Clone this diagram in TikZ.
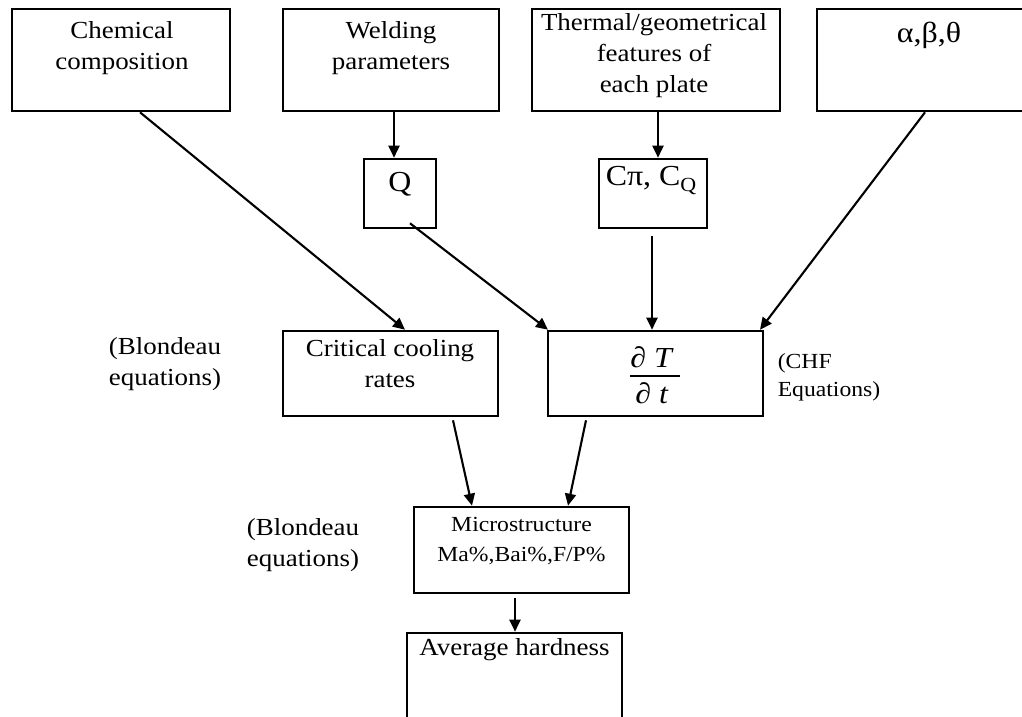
\documentclass[tikz,border=0pt]{standalone}
\usepackage{fontspec}
\setmainfont{Liberation Serif}[FakeStretch=1.1]
\usetikzlibrary{arrows.meta,calc}
\begin{document}
\begin{tikzpicture}[x=1pt,y=-1pt,
  box/.style={draw,line width=2.6pt,inner sep=0pt},
  txt/.style={inner sep=0pt,align=center,font=\fontsize{24.5}{31}\selectfont},
  big/.style={inner sep=0pt,align=center,font=\fontsize{29}{34}\selectfont},
  small/.style={inner sep=0pt,align=center,font=\fontsize{21.5}{30}\selectfont},
  lab/.style={inner sep=0pt,align=left,font=\fontsize{24.5}{31}\selectfont},
  conn/.style={line width=2.1pt,-{Triangle[length=12pt,width=11pt]}}]
\useasboundingbox (0,0) rectangle (1022,717);
\clip (0,0) rectangle (1022,717);
% boxes
\node[box,minimum width=218pt,minimum height=102pt] (chem) at (121,60) {};
\node[box,minimum width=216pt,minimum height=102pt] (weld) at (391,60) {};
\node[box,minimum width=248pt,minimum height=102pt] (therm) at (656,60) {};
\node[box,minimum width=224pt,minimum height=102pt] (alpha) at (929,60) {};
\node[box,minimum width=72pt,minimum height=69pt] (Q) at (400,193.5) {};
\node[box,minimum width=108pt,minimum height=69pt] (Cpi) at (653,193.5) {};
\node[box,minimum width=215pt,minimum height=85pt] (crit) at (390.5,373.5) {};
\node[box,minimum width=215pt,minimum height=85pt] (dT) at (655.5,373.5) {};
\node[box,minimum width=215pt,minimum height=86pt] (micro) at (521.5,550) {};
\node[box,minimum width=215pt,minimum height=130pt] (avg) at (514.5,698) {};
% texts
\node[txt,anchor=north] (chemT) at (122,21) {Chemical\\composition};
\node[txt,anchor=north] (weldT) at (391,21) {Welding\\parameters};
\node[txt,anchor=north] (thermT) at (654,13) {Thermal/geometrical\\features of\\each plate};
\node[big,anchor=north] (alphaT) at (929,22) {α,β,θ};
\node[big,anchor=north] (QT) at (400,172) {Q};
\node[big,anchor=north] (CpiT) at (651,166) {Cπ, C\raisebox{-6pt}{\fontsize{20}{20}\selectfont Q}};
\node[txt,anchor=north] (critT) at (390,339) {Critical cooling\\rates};
\node[big,anchor=base] (dTn) at (652,367) {\textit{∂ T}};
\node[big,anchor=base] (dTd) at (652,403) {\textit{∂ t}};
\draw[line width=1.8pt] (630,376) -- (680,376);
\node[small,anchor=north] (microT) at (521.5,517) {Microstructure\\Ma\%,Bai\%,F/P\%};
\node[txt,anchor=north] (avgT) at (514.5,638) {Average hardness};
% side labels
\node[lab] (lab1) at (165,364) {(Blondeau\\equations)};
\node[lab] (lab2) at (303,545) {(Blondeau\\equations)};
\node[small,align=left,font=\fontsize{21.5}{28}\selectfont] (lab3) at (829,377) {(CHF\\Equations)};
% connectors
\draw[conn] (weld.south -| 394,0) -- (Q.north -| 394,0);
\draw[conn] (therm.south -| 658,0) -- (Cpi.north -| 658,0);
\draw[conn] (chem.south -| 140,0) -- (crit.north -| 405,0);
\draw[conn] ([shift={(10,-6)}]Q.south) -- (dT.north -| 548,0);
\draw[conn] ([shift={(-1,7)}]Cpi.south) -- (dT.north -| 652,0);
\draw[conn] (alpha.south -| 925,0) -- (dT.north -| 760,0);
\draw[conn] ([shift={(62.5,3)}]crit.south) -- (micro.north -| 472,0);
\draw[conn] ([shift={(-69.5,3)}]dT.south) -- (micro.north -| 568,0);
\draw[conn] ([shift={(-6.5,4)}]micro.south) -- (avg.north -| 515,0);
\end{tikzpicture}
\end{document}
